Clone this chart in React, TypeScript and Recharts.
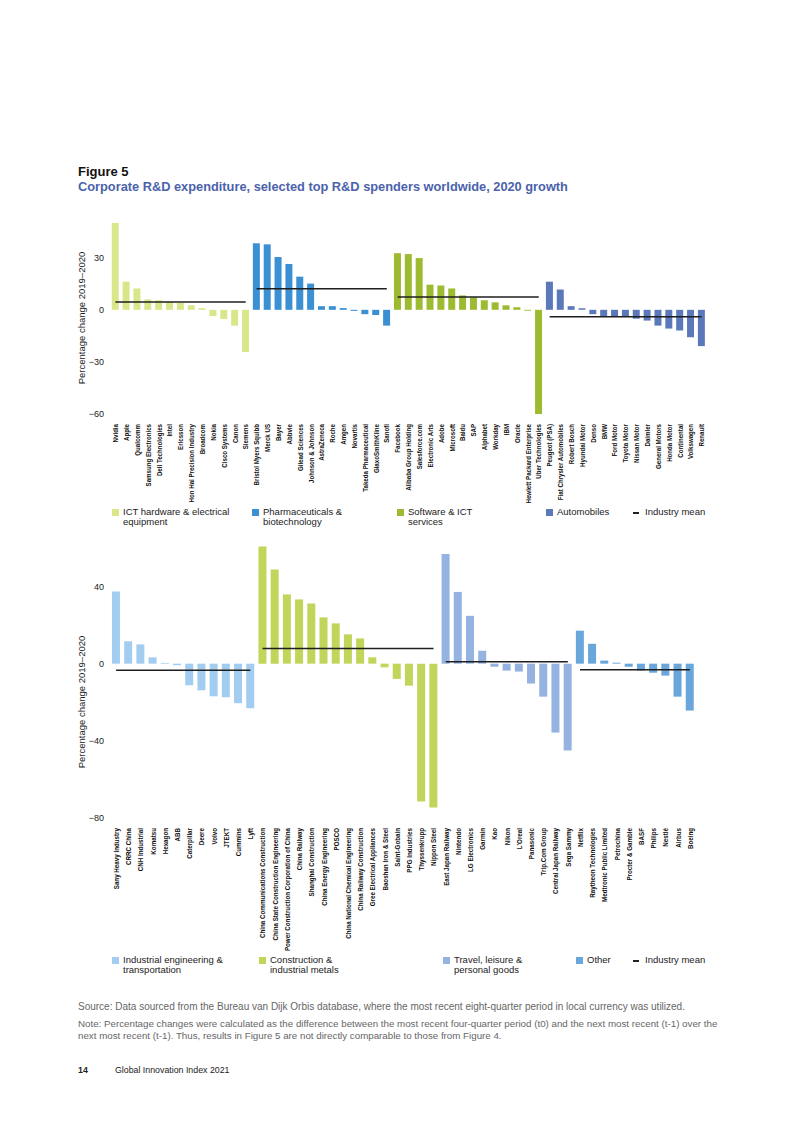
import React from 'react';
import { ComposedChart, Bar, Line, XAxis, YAxis, Cell } from 'recharts';

// top panel
const ictNames = ['Nvidia', 'Apple', 'Qualcomm', 'Samsung Electronics', 'Dell Technologies', 'Intel', 'Ericsson', 'Hon Hai Precision Industry', 'Broadcom', 'Nokia', 'Cisco Systems', 'Canon', 'Siemens'];
const ictValues = [50, 16.2, 12.3, 6.0, 5.5, 4.7, 4.0, 2.6, 0.9, -3.6, -5.3, -9.1, -24.3];
const pharmaNames = ['Bristol Myers Squibb', 'Merck US', 'Bayer', 'Abbvie', 'Gilead Sciences', 'Johnson & Johnson', 'AstraZeneca', 'Roche', 'Amgen', 'Novartis', 'Takeda Pharmaceutical', 'GlaxoSmithKline', 'Sanofi'];
const pharmaValues = [38.3, 37.7, 30.4, 26.4, 19.1, 15.1, 2.1, 2.1, 1.0, -0.6, -2.5, -3.0, -9.1];
const softwareNames = ['Facebook', 'Alibaba Group Holding', 'Salesforce.com', 'Electronic Arts', 'Adobe', 'Microsoft', 'Baidu', 'SAP', 'Alphabet', 'Workday', 'IBM', 'Oracle', 'Hewlett Packard Enterprise', 'Uber Technologies'];
const softwareValues = [32.6, 32.1, 29.8, 14.5, 14.0, 12.3, 8.3, 7.2, 5.5, 4.3, 2.6, 1.5, -0.5, -60];
const autoNames = ['Peugeot (PSA)', 'Fiat Chrysler Automobiles', 'Robert Bosch', 'Hyundai Motor', 'Denso', 'BMW', 'Ford Motor', 'Toyota Motor', 'Nissan Motor', 'Daimler', 'General Motors', 'Honda Motor', 'Continental', 'Volkswagen', 'Renault'];
const autoValues = [16.2, 11.7, 2.1, 0.9, -2.5, -4.0, -4.0, -4.0, -5.1, -6.2, -9.1, -10.8, -11.9, -15.8, -20.9];
const topMeans = [4.5, 12.1, 7.4, -4.0];
const topColors = ['#d9e68a', '#3b8fd3', '#9dbb30', '#5b79ba'];
const topLegend = [['ICT hardware & electrical', 'equipment'], ['Pharmaceuticals &', 'biotechnology'], ['Software & ICT', 'services'], ['Automobiles']];
const topTicks = [-60, -30, 0, 30];

// bottom panel
const industrialNames = ['Sany Heavy Industry', 'CRRC China', 'CNH Industrial', 'Komatsu', 'Hexagon', 'ABB', 'Caterpillar', 'Deere', 'Volvo', 'JTEKT', 'Cummins', 'Lyft'];
const industrialValues = [37.4, 11.6, 10.0, 3.3, 0.4, -0.8, -11.2, -13.8, -16.9, -17.4, -20.5, -23.1];
const constructionNames = ['China Communications Construction', 'China State Construction Engineering', 'Power Construction Corporation of China', 'China Railway', 'Shanghai Construction', 'China Energy Engineering', 'POSCO', 'China National Chemical Engineering', 'China Railway Construction', 'Gree Electrical Appliances', 'Baoshan Iron & Steel', 'Saint-Gobain', 'PPG Industries', 'Thyssenkrupp', 'Nippon Steel'];
const constructionValues = [60.7, 48.8, 35.9, 33.3, 31.2, 24.0, 20.9, 15.2, 13.1, 3.3, -1.9, -7.9, -11.4, -71.4, -74.5];
const travelNames = ['East Japan Railway', 'Nintendo', 'LG Electronics', 'Garmin', 'Kao', 'Nikon', "L'Oreal", 'Panasonic', 'Trip.Com Group', 'Central Japan Railway', 'Sega Sammy'];
const travelValues = [56.9, 37.2, 24.8, 6.7, -1.6, -3.6, -4.1, -10.3, -17.1, -35.7, -45.0];
const otherNames = ['Netflix', 'Raytheon Technologies', 'Medtronic Public Limited', 'Petrochina', 'Procter & Gamble', 'BASF', 'Philips', 'Nestlé', 'Airbus', 'Boeing'];
const otherValues = [17.1, 10.3, 1.6, 0.5, -1.6, -3.6, -4.7, -6.2, -17.1, -24.3];
const bottomMeans = [-3.4, 7.9, 1.0, -3.1];
const bottomColors = ['#a3cdf0', '#c1d55a', '#94b3e0', '#68a6dc'];
const bottomLegend = [['Industrial engineering &', 'transportation'], ['Construction &', 'industrial metals'], ['Travel, leisure &', 'personal goods'], ['Other']];
const bottomTicks = [-80, -40, 0, 40];

const FONT = '"Liberation Sans", Arial, sans-serif';

const buildRows = (groups: [string[], number[]][], means: number[]) => {
  const rows: any[] = [];
  groups.forEach(([names, values], g) => {
    names.forEach((name, i) => {
      const row: any = { name, value: values[i], group: g };
      row[`m${g}`] = means[g];
      rows.push(row);
    });
  });
  return rows;
};

const topRows = buildRows([[ictNames, ictValues], [pharmaNames, pharmaValues], [softwareNames, softwareValues], [autoNames, autoValues]], topMeans);
const bottomRows = buildRows([[industrialNames, industrialValues], [constructionNames, constructionValues], [travelNames, travelValues], [otherNames, otherValues]], bottomMeans);

// condensed labels: the source uses a narrow bold face
const makeTick = (size: number, squeeze: number) => ({ x, y, payload }: any) => (
  <text
    transform={`translate(${x + size * 0.36},${y}) rotate(-90) scale(${squeeze},1)`}
    textAnchor="end"
    fontSize={size}
    fontWeight="bold"
    fill="#111"
    style={{ fontFamily: FONT }}
  >
    {payload.value}
  </text>
);
const TopTick = makeTick(7.5, 0.82);
const BottomTick = makeTick(8, 0.78);

const Panel = ({ rows, colors, domain, ticks, width, plotHeight, axisHeight, Tick }: any) => (
  <ComposedChart width={width} height={5 + plotHeight + axisHeight} data={rows} margin={{ top: 5, right: 0, left: 0, bottom: 0 }} barCategoryGap="16%">
    <XAxis dataKey="name" interval={0} axisLine={false} tickLine={false} height={axisHeight} tick={<Tick />} tickMargin={4} />
    <YAxis
      domain={domain}
      ticks={ticks}
      width={40}
      axisLine={false}
      tickLine={false}
      tickSize={4}
      tickMargin={2}
      allowDataOverflow
      tickFormatter={(v: number) => (v < 0 ? `\u2212${Math.abs(v)}` : `${v}`)}
      tick={{ fontSize: 9, fill: '#222', fontFamily: FONT }}
    />
    <Bar dataKey="value" isAnimationActive={false}>
      {rows.map((r: any, i: number) => (
        <Cell key={`c-${i}`} fill={colors[r.group]} />
      ))}
    </Bar>
    {[0, 1, 2, 3].map((g) => (
      <Line key={g} dataKey={`m${g}`} stroke="#1f1f1f" strokeWidth={1.5} dot={false} activeDot={false} isAnimationActive={false} connectNulls={false} />
    ))}
  </ComposedChart>
);

const Legend = ({ items, colors, xs, top }: any) => (
  <>
    {items.map((lines: string[], i: number) => (
      <div key={i} style={{ position: 'absolute', left: xs[i], top, display: 'flex', fontFamily: FONT, fontSize: 9.5, color: '#222', lineHeight: '10px' }}>
        <div style={{ width: 7, height: 7, background: colors[i], marginTop: 1.5, marginRight: 4 }} />
        <div>{lines.map((l) => <div key={l}>{l}</div>)}</div>
      </div>
    ))}
    <div style={{ position: 'absolute', left: 633, top, display: 'flex', alignItems: 'flex-start', fontFamily: FONT, fontSize: 9.5, color: '#222', lineHeight: '10px' }}>
      <div style={{ width: 6, height: 1.5, background: '#222', marginTop: 5, marginRight: 6 }} />
      <div>Industry mean</div>
    </div>
  </>
);

const AxisTitle = ({ top }: any) => (
  <div style={{ position: 'absolute', left: 81, top, width: 0, height: 0 }}>
    <div style={{ position: 'absolute', transform: 'translate(-50%, -50%) rotate(-90deg)', whiteSpace: 'nowrap', fontFamily: FONT, fontSize: 9.5, color: '#222' }}>
      Percentage change 2019–2020
    </div>
  </div>
);

export default function App() {
  return (
    <div style={{ position: 'absolute', left: 0, top: 0, width: 793, height: 1122, background: '#fff', fontFamily: FONT }}>
      <div style={{ position: 'absolute', left: 78, top: 164, fontSize: 13, fontWeight: 'bold', color: '#111' }}>Figure 5</div>
      <div style={{ position: 'absolute', left: 78, top: 179, fontSize: 12.8, fontWeight: 'bold', color: '#4b62ab' }}>
        Corporate R&amp;D expenditure, selected top R&amp;D spenders worldwide, 2020 growth
      </div>

      <AxisTitle top={318} />
      <div style={{ position: 'absolute', left: 70, top: 218 }}>
        <Panel rows={topRows} colors={topColors} domain={[-60, 50]} ticks={topTicks} width={637} plotHeight={191} axisHeight={95} Tick={TopTick} />
      </div>
      <Legend items={topLegend} colors={topColors} xs={[112, 252, 397, 546]} top={507} />

      <AxisTitle top={702} />
      <div style={{ position: 'absolute', left: 70, top: 541 }}>
        <Panel rows={bottomRows} colors={bottomColors} domain={[-80, 61]} ticks={bottomTicks} width={626} plotHeight={272} axisHeight={140} Tick={BottomTick} />
      </div>
      <Legend items={bottomLegend} colors={bottomColors} xs={[112, 259, 443, 576]} top={955} />

      <div style={{ position: 'absolute', left: 78, top: 1001, fontSize: 10, color: '#666', lineHeight: '12px', whiteSpace: 'nowrap' }}>
        Source: Data sourced from the Bureau van Dijk Orbis database, where the most recent eight-quarter period in local currency was utilized.
      </div>
      <div style={{ position: 'absolute', left: 78, top: 1018, fontSize: 9.75, color: '#666', lineHeight: '12px', whiteSpace: 'nowrap' }}>
        Note: Percentage changes were calculated as the difference between the most recent four-quarter period (t0) and the next most recent (t-1) over the
        <br />
        next most recent (t-1). Thus, results in Figure 5 are not directly comparable to those from Figure 4.
      </div>
      <div style={{ position: 'absolute', left: 78, top: 1065, fontSize: 8.8, fontWeight: 'bold', color: '#222' }}>14</div>
      <div style={{ position: 'absolute', left: 115, top: 1065, fontSize: 8.8, color: '#222' }}>Global Innovation Index 2021</div>
    </div>
  );
}
